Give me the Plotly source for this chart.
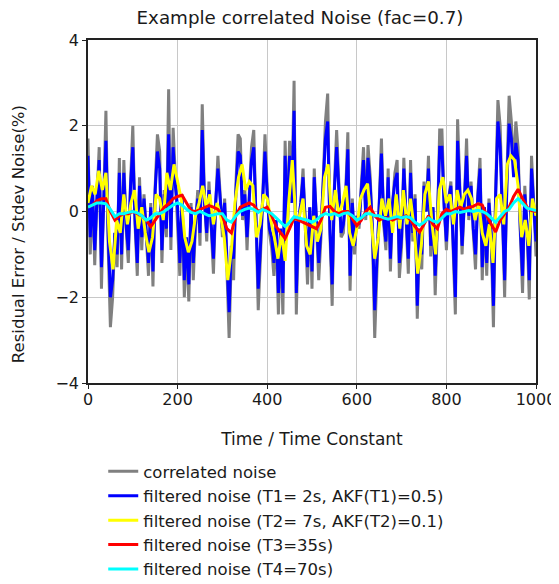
import plotly.graph_objects as go

# time axes (Time / Time Constant)
t_fast = list(range(0, 1001, 5))
t_mid = list(range(0, 1001, 8))
t_slow = list(range(0, 1001, 10))

correlated_noise = [
    1.7, -1.0, 0.6, -1.25, 0.3, 1.5, -1.8, 0.4, 2.35, -0.8,
    -2.7, -2.0, -0.5, -1.3, 1.25, -1.35, 1.2, -0.4, -1.2, 0.7,
    2.0, -0.3, -1.5, 0.8, -0.9, 0.4, -0.6, -1.5, 0.2, -1.75,
    0.6, 1.8, 1.4, -1.2, 0.5, -0.6, 2.85, -0.9, 1.95, 0.8,
    0.0, -1.5, 0.4, -2.0, -0.7, -2.1, 0.2, -1.6, -0.3, 0.5,
    -0.8, 2.5, 0.3, -0.7, 0.7, -0.4, -1.45, 0.2, 1.3, 0.4,
    -0.6, 0.3, -1.2, -2.95, -1.0, -1.6, 0.6, 1.8, 1.7, -0.2,
    0.5, -0.9, 0.4, 1.5, 1.9, 0.0, -2.3, -1.05, 0.3, 1.8,
    0.55, -0.5, -0.85, -1.5, -0.3, -2.4, -0.5, -2.4, 1.65, -0.4,
    1.65, 0.3, 3.05, -2.4, -0.3, 0.2, 1.0, -0.6, -1.7, 0.1,
    -1.8, 1.0, -0.4, -1.6, -0.6, 0.8, 2.1, 2.75, -0.5, -2.2,
    0.6, 1.9, 0.5, -0.6, -0.5, 0.4, 1.85, -1.85, 0.3, -1.0,
    -0.1, -0.4, 0.6, 1.5, -0.2, 1.55, 0.8, -0.6, -2.95, -1.4,
    0.3, 1.7, -0.3, -0.9, 1.0, -1.4, 0.2, 0.9, 1.2, -1.55,
    -0.8, 1.25, -0.2, -1.45, 1.2, -0.7, 0.4, -2.5, -0.5, -1.35,
    0.7, 0.0, 1.3, -1.05, 0.1, -1.95, -0.3, 1.9, 1.9, 0.2,
    -0.9, 0.3, 0.7, -0.8, -2.4, 2.15, 0.4, -1.0, 0.2, 1.7,
    -0.2, 0.7, -0.5, -1.35, 0.4, 1.25, -1.6, 0.1, -1.5, 0.3,
    -0.6, -2.7, 0.5, 2.6, 2.0, -0.4, -2.0, 0.8, 2.7, 2.1,
    0.9, 2.1, 1.5, -0.5, -1.9, 0.6, -0.4, -2.05, 1.3, 0.2,
    -1.05,
]

filtered_t1 = [
    1.3, -0.6, 0.5, -0.9, 0.3, 1.2, -1.3, 0.4, 1.65, -0.5,
    -2.0, -1.6, -0.5, -1.0, 0.9, -1.0, 0.9, -0.3, -0.9, 0.6,
    1.5, -0.2, -1.2, 0.6, -0.6, 0.3, -0.4, -1.2, 0.1, -1.4,
    0.5, 1.4, 1.0, -0.9, 0.4, -0.4, 1.8, -0.6, 1.5, 0.6,
    0.1, -1.2, 0.3, -1.6, -0.6, -1.7, 0.1, -1.2, -0.2, 0.3,
    -0.5, 1.9, 0.2, -0.5, 0.5, -0.3, -1.1, 0.2, 1.0, 0.3,
    -0.4, 0.2, -0.9, -2.35, -0.8, -1.1, 0.4, 1.4, 1.3, -0.1,
    0.4, -0.6, 0.3, 1.2, 1.5, 0.0, -1.8, -0.8, 0.3, 1.4,
    0.4, -0.4, -0.6, -1.2, -0.2, -1.9, -0.4, -1.9, 1.3, -0.3,
    1.3, 0.2, 2.35, -1.9, -0.2, 0.2, 0.8, -0.4, -1.3, 0.1,
    -1.4, 0.8, -0.3, -1.2, -0.4, 0.6, 1.7, 2.1, -0.4, -1.7,
    0.5, 1.5, 0.4, -0.5, -0.3, 0.3, 1.45, -1.5, 0.2, -0.8,
    -0.1, -0.3, 0.5, 1.2, -0.1, 1.25, 0.6, -0.4, -2.3, -1.1,
    0.2, 1.35, -0.2, -0.7, 0.8, -1.1, 0.2, 0.7, 0.9, -1.2,
    -0.6, 1.0, -0.1, -1.1, 0.9, -0.5, 0.3, -2.2, -0.4, -1.0,
    0.6, 0.0, 1.0, -0.8, 0.1, -1.5, -0.2, 1.5, 1.5, 0.1,
    -0.7, 0.3, 0.6, -0.6, -2.0, 1.65, 0.3, -0.8, 0.2, 1.3,
    -0.1, 0.6, -0.4, -1.0, 0.3, 1.0, -1.3, 0.1, -1.2, 0.2,
    -0.5, -2.2, 0.4, 2.1, 1.5, -0.3, -1.6, 0.6, 2.05, 1.7,
    0.8, 1.6, 1.2, -0.4, -1.5, 0.4, -0.3, -1.6, 1.0, 0.1,
    -0.7,
]

filtered_t2 = [
    0.2, 0.6, 0.4, 0.95, 0.5, 0.9, -0.7, -1.35, -0.2, -0.5,
    0.4, -0.3, 0.2, 0.5, -0.4, 0.1, -0.5, -0.95, -0.6, 0.4,
    0.3, -0.2, 0.9, 0.5, 1.1, 0.7, 0.3, -0.6, -0.95, -0.7,
    -0.1, 0.2, 0.6, 0.1, 0.4, -0.3, 0.2, -0.1, -0.6, -1.6,
    -0.9, 0.2, 0.8, 1.1, 0.5, 0.7, 0.6, -0.6, -0.3, 0.4,
    0.3, -0.2, -0.6, -1.1, -0.5, -1.15, 0.2, 1.2, -0.2, -0.1,
    0.3, -0.8, -1.0, -0.1, -0.7, -0.4, 0.8, 1.1, -0.2, 0.5,
    -0.1, 0.2, 0.6, -0.5, -0.8, -0.4, 0.3, 0.5, 0.65, -0.2,
    -1.1, -0.6, 0.3, -0.1, 0.3, -0.5, 0.4, -0.4, 0.5, -0.3,
    0.3, -0.4, -1.45, -0.8, 0.4, 0.7, -0.3, -1.0, 0.5, 0.8,
    0.2, 0.4, -0.3, 0.5, 0.1, 0.4, 0.5, 0.3, -0.2, 0.2,
    -0.5, -0.8, -0.3, -1.2, 0.3, 0.4, -0.3, 1.1, 1.3, 1.2,
    0.6, -0.6, -0.2, -0.8, 0.3, -0.1,
]

filtered_t3 = [
    0.1, 0.15, 0.25, 0.3, 0.3, 0.0, -0.2, -0.1, -0.05, -0.05,
    0.0, -0.05, -0.1, -0.2, -0.35, -0.2, -0.05, 0.1, 0.18, 0.3,
    0.35, 0.38, 0.2, 0.02, 0.0, 0.05, 0.1, 0.14, 0.1, 0.05,
    -0.1, -0.4, -0.5, -0.1, 0.1, 0.15, 0.2, 0.15, 0.0, 0.05,
    0.1, -0.1, -0.35, -0.5, -0.63, -0.4, -0.15, -0.2, -0.25, -0.3,
    -0.35, -0.4, -0.2, 0.1, 0.12, 0.0, -0.05, 0.0, 0.0, -0.15,
    -0.33, -0.2, 0.0, 0.1, -0.1, -0.2, -0.15, -0.15, -0.2, -0.15,
    -0.15, -0.1, -0.2, -0.35, -0.48, -0.3, -0.1, -0.3, -0.4, -0.05,
    0.05, 0.0, 0.05, 0.1, 0.05, 0.1, 0.12, 0.18, 0.15, -0.1,
    -0.3, -0.48, -0.2, -0.05, 0.1, 0.35, 0.52, 0.3, 0.1, 0.02,
    0.0,
]

filtered_t4 = [
    0.1, 0.15, 0.2, 0.2, 0.18, 0.05, -0.12, -0.05, -0.05, -0.02,
    0.0, -0.03, -0.1, -0.2, -0.15, -0.05, -0.05, 0.0, 0.08, 0.15,
    0.2, 0.15, 0.05, -0.02, -0.05, 0.0, -0.05, -0.1, -0.08, -0.05,
    -0.05, -0.2, -0.25, -0.1, 0.0, 0.05, 0.08, 0.05, -0.02, 0.05,
    0.0, -0.05, -0.15, -0.25, -0.35, -0.25, -0.12, -0.15, -0.18, -0.2,
    -0.25, -0.2, -0.1, -0.05, -0.08, -0.05, -0.1, -0.05, -0.03, -0.1,
    -0.2, -0.15, -0.05, -0.05, -0.1, -0.1, -0.15, -0.18, -0.15, -0.12,
    -0.15, -0.12, -0.15, -0.25, -0.32, -0.25, -0.15, -0.22, -0.25, -0.15,
    -0.05, -0.05, 0.0, -0.02, 0.0, 0.02, 0.0, 0.03, 0.0, -0.05,
    -0.15, -0.25, -0.12, 0.0, 0.05, 0.2, 0.3, 0.2, 0.08, 0.05,
    0.02,
]

x_ticks = [0, 200, 400, 600, 800, 1000]
y_ticks = [-4, -2, 0, 2, 4]

names = [
    "correlated noise",
    "filtered noise (T1= 2s, AKF(T1)=0.5)",
    "filtered noise (T2= 7s, AKF(T2)=0.1)",
    "filtered noise (T3=35s)",
    "filtered noise (T4=70s)",
]
colors = ["#808080", "#0000FF", "#FFFF00", "#FF0000", "#00FFFF"]

FONT = "DejaVu Sans, Verdana, sans-serif"
TXT = "#1a1a1a"

fig = go.Figure()
series = [
    (t_fast, correlated_noise),
    (t_fast, filtered_t1),
    (t_mid, filtered_t2),
    (t_slow, filtered_t3),
    (t_slow, filtered_t4),
]
for (xs, ys), name, col in zip(series, names, colors):
    fig.add_trace(go.Scatter(x=xs, y=ys, mode="lines", name=name,
                             line=dict(color=col, width=3)))

# the page adds an 8px body margin, so the figure is 8px smaller and shifted
W, H = 551, 576
fig.update_layout(
    width=W, height=H,
    margin=dict(l=80, r=23, t=32, b=201, autoexpand=False),
    paper_bgcolor="white", plot_bgcolor="white",
    font=dict(family=FONT, size=16, color=TXT),
    title=dict(text="Example correlated Noise (fac=0.7)", x=292/W, xanchor="center",
               xref="container", y=1 - 10/H, yanchor="middle", yref="container",
               font=dict(size=18.3, color=TXT)),
    showlegend=True,
    legend=dict(orientation="v", x=0.034, xanchor="left", y=-0.207, yanchor="top",
                font=dict(size=16.5), bgcolor="rgba(0,0,0,0)", tracegroupgap=0),
    annotations=[dict(text="Residual Error / Stdev Noise(%)", textangle=-90,
                      xref="paper", yref="paper", x=0, y=0.434, xshift=-70,
                      xanchor="center", yanchor="middle", showarrow=False,
                      font=dict(size=16.5, color=TXT))],
)
fig.update_xaxes(range=[0, 1000], tickvals=x_ticks, showgrid=True, gridcolor="#c8c8c8",
                 gridwidth=1, zeroline=False, showline=True, linecolor="#222222",
                 linewidth=1.5, mirror=True, ticks="outside", ticklen=4, tickcolor="#222222",
                 automargin=False, ticklabelstandoff=-3,
                 title=dict(text="Time / Time Constant", standoff=25, font=dict(size=17)))
fig.update_yaxes(range=[-4, 4], tickvals=y_ticks, showgrid=True, gridcolor="#c8c8c8",
                 gridwidth=1, zeroline=False, showline=True, linecolor="#222222",
                 linewidth=1.5, mirror=True, ticks="outside", ticklen=4, tickcolor="#222222",
                 automargin=False)

fig.write_html("out.html")
